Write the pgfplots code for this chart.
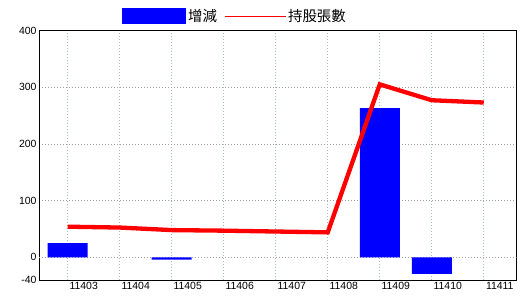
\documentclass[border=0pt]{standalone}
\usepackage{pgfplots}
\pgfplotsset{compat=1.18}
\usepackage{fontspec}
\setmainfont{Liberation Sans}
\newfontfamily\cjk{Noto Sans CJK TC}
\definecolor{barblue}{RGB}{0,0,255}
\definecolor{linered}{RGB}{255,0,0}
\begin{document}
\begin{tikzpicture}
\path[use as bounding box] (0,0) rectangle (520bp,300bp);
\begin{axis}[
  at={(39bp,20bp)}, anchor=south west,
  scale only axis, width=477bp, height=249.5bp,
  xmin=-0.552, xmax=8.62, ymin=-40, ymax=400,
  xtick={0,...,8},
  xticklabels={11403,11404,11405,11406,11407,11408,11409,11410,11411},
  ytick={-40,0,100,200,300,400},
  xticklabel style={xshift=16bp, yshift=1bp},
  yticklabel style={xshift=1bp},
  major tick length=0pt,
  tick label style={font=\fontsize{10.5}{12}\selectfont},
  /pgf/number format/assume math mode=true,
  xmajorgrids, ymajorgrids,
  x grid style={line width=0.8bp, dash pattern=on 0.8bp off 2.2bp, color={rgb,255:red,170;green,185;blue,200}},
  y grid style={line width=0.8bp, dash pattern=on 0.8bp off 2.2bp, color={rgb,255:red,160;green,160;blue,160}},
  extra y ticks={0}, extra y tick labels={},
  extra y tick style={grid=major, major grid style={solid, black, line width=0.8bp}},
  axis line style={line width=0.8bp},
  legend columns=2,
  legend style={at={(0.174,1.058)}, anchor=west, draw=none, fill=none,
    inner sep=0pt, font=\cjk\fontsize{14.5}{16}\selectfont,
    nodes={inner sep=2bp},
    /tikz/every even column/.append style={column sep=5bp}},
]
\addplot[ybar, bar width=40bp, fill=barblue, draw=none,
  legend image code/.code={\fill[barblue] (0bp,-8bp) rectangle (64bp,8bp);}]
  coordinates {(0,25) (2,-4) (6,263) (7,-29)};
\addlegendentry{增減}
\addplot[linered, line width=4.3bp, mark=none,
  legend image code/.code={\draw[linered, line width=1bp] (0bp,0bp) -- (61bp,0bp);}]
  coordinates {(0,54) (1,52.5) (2,48) (3,47) (4,45.5) (5,44) (6,305) (7,277) (8,273)};
\addlegendentry{持股張數}
\end{axis}
\end{tikzpicture}
\end{document}
